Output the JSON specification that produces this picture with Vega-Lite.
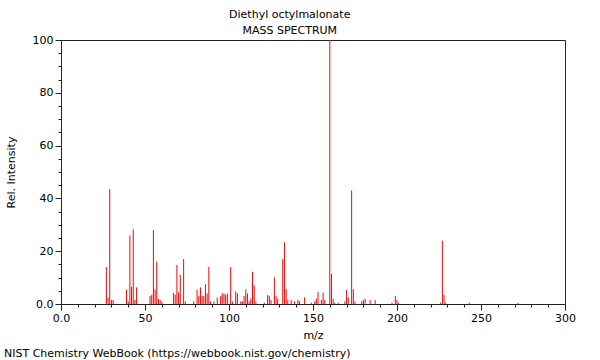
{
  "$schema": "https://vega.github.io/schema/vega-lite/v6.json",
  "padding": {"left": 3, "top": 8, "right": 5, "bottom": 2},
  "background": "white",
  "title": {
    "text": "Diethyl octylmalonate",
    "subtitle": "MASS SPECTRUM",
    "anchor": "middle",
    "font": "DejaVu Sans",
    "fontSize": 11,
    "fontWeight": "normal",
    "color": "#000000",
    "subtitleFont": "DejaVu Sans",
    "subtitleFontSize": 11,
    "subtitleColor": "#000000",
    "subtitlePadding": 5,
    "offset": -2
  },
  "vconcat": [
    {
      "width": 504,
      "height": 264,
      "title": {
        "text": "NIST Chemistry WebBook (https://webbook.nist.gov/chemistry)",
        "orient": "bottom",
        "anchor": "start",
        "frame": "bounds",
        "font": "DejaVu Sans",
        "fontSize": 11,
        "fontWeight": "normal",
        "color": "#000000",
        "offset": 8,
        "dx": -1
      },
      "data": {
        "values": [
          {"mz": 27, "intensity": 14}, {"mz": 28, "intensity": 2.5}, {"mz": 29, "intensity": 43.5}, {"mz": 30, "intensity": 1.5}, {"mz": 31, "intensity": 1.5},
          {"mz": 39, "intensity": 5.5}, {"mz": 40, "intensity": 1}, {"mz": 41, "intensity": 26}, {"mz": 42, "intensity": 6.5}, {"mz": 43, "intensity": 28.3}, {"mz": 44, "intensity": 1.5}, {"mz": 45, "intensity": 6.3},
          {"mz": 53, "intensity": 3}, {"mz": 54, "intensity": 3.5}, {"mz": 55, "intensity": 28}, {"mz": 56, "intensity": 5.5}, {"mz": 57, "intensity": 16}, {"mz": 58, "intensity": 2}, {"mz": 59, "intensity": 1.5}, {"mz": 60, "intensity": 1},
          {"mz": 67, "intensity": 4.2}, {"mz": 68, "intensity": 3.5}, {"mz": 69, "intensity": 14.8}, {"mz": 70, "intensity": 4.4}, {"mz": 71, "intensity": 11}, {"mz": 73, "intensity": 17}, {"mz": 74, "intensity": 1},
          {"mz": 79, "intensity": 1}, {"mz": 81, "intensity": 5.4}, {"mz": 82, "intensity": 3}, {"mz": 83, "intensity": 6.3}, {"mz": 84, "intensity": 3}, {"mz": 85, "intensity": 3}, {"mz": 86, "intensity": 7.5}, {"mz": 87, "intensity": 4}, {"mz": 88, "intensity": 14.1}, {"mz": 89, "intensity": 1},
          {"mz": 91, "intensity": 1}, {"mz": 93, "intensity": 2.5}, {"mz": 95, "intensity": 3}, {"mz": 96, "intensity": 4}, {"mz": 97, "intensity": 4}, {"mz": 98, "intensity": 3.5}, {"mz": 99, "intensity": 4},
          {"mz": 101, "intensity": 14}, {"mz": 102, "intensity": 1}, {"mz": 104, "intensity": 4.7}, {"mz": 105, "intensity": 4}, {"mz": 107, "intensity": 1}, {"mz": 108, "intensity": 1}, {"mz": 109, "intensity": 3}, {"mz": 110, "intensity": 5.5},
          {"mz": 111, "intensity": 4}, {"mz": 112, "intensity": 1}, {"mz": 113, "intensity": 2}, {"mz": 114, "intensity": 12.2}, {"mz": 115, "intensity": 7}, {"mz": 116, "intensity": 1}, {"mz": 121, "intensity": 0.5},
          {"mz": 123, "intensity": 3.4}, {"mz": 124, "intensity": 3}, {"mz": 125, "intensity": 1.5}, {"mz": 127, "intensity": 10.1}, {"mz": 128, "intensity": 3}, {"mz": 129, "intensity": 2},
          {"mz": 132, "intensity": 17}, {"mz": 133, "intensity": 23.4}, {"mz": 134, "intensity": 5.7}, {"mz": 135, "intensity": 1.5}, {"mz": 137, "intensity": 1.5}, {"mz": 139, "intensity": 1}, {"mz": 141, "intensity": 1.5}, {"mz": 142, "intensity": 1},
          {"mz": 145, "intensity": 2.5}, {"mz": 149, "intensity": 0.5}, {"mz": 151, "intensity": 1}, {"mz": 152, "intensity": 2}, {"mz": 153, "intensity": 4.5}, {"mz": 155, "intensity": 1.5}, {"mz": 156, "intensity": 4.3}, {"mz": 157, "intensity": 1.5},
          {"mz": 160, "intensity": 100}, {"mz": 161, "intensity": 11.4}, {"mz": 162, "intensity": 2}, {"mz": 163, "intensity": 0.5}, {"mz": 165, "intensity": 0.5},
          {"mz": 169, "intensity": 1}, {"mz": 170, "intensity": 5.3}, {"mz": 171, "intensity": 2.5}, {"mz": 173, "intensity": 43}, {"mz": 174, "intensity": 5.6}, {"mz": 175, "intensity": 1},
          {"mz": 179, "intensity": 1}, {"mz": 180, "intensity": 1.5}, {"mz": 181, "intensity": 2}, {"mz": 184, "intensity": 1.5}, {"mz": 187, "intensity": 1.5},
          {"mz": 197, "intensity": 0.5}, {"mz": 199, "intensity": 3}, {"mz": 200, "intensity": 1.5}, {"mz": 201, "intensity": 0.5},
          {"mz": 226, "intensity": 0.5}, {"mz": 227, "intensity": 24}, {"mz": 228, "intensity": 3.5}, {"mz": 229, "intensity": 0.5},
          {"mz": 243, "intensity": 0.5}, {"mz": 272, "intensity": 0.5}
        ]
      },
      "mark": {"type": "rule", "color": "#ff0000", "strokeWidth": 1},
      "encoding": {
        "x": {
          "field": "mz",
          "type": "quantitative",
          "scale": {"domain": [0, 300], "nice": false, "zero": false},
          "axis": {
            "title": "m/z",
            "values": [0, 10, 20, 30, 40, 50, 60, 70, 80, 90, 100, 110, 120, 130, 140, 150, 160, 170, 180, 190, 200, 210, 220, 230, 240, 250, 260, 270, 280, 290, 300],
            "labelExpr": "datum.value % 50 === 0 ? (datum.value === 0 ? '0.0' : datum.label) : ''",
            "tickSize": {"condition": {"test": "datum.value % 50 === 0", "value": 6}, "value": 3},
            "labelFlush": false,
            "labelOverlap": false,
            "labelPadding": 2,
            "titlePadding": 6
          }
        },
        "y": {
          "field": "intensity",
          "type": "quantitative",
          "scale": {"domain": [0, 100], "nice": false},
          "axis": {
            "title": "Rel. Intensity",
            "values": [0, 5, 10, 15, 20, 25, 30, 35, 40, 45, 50, 55, 60, 65, 70, 75, 80, 85, 90, 95, 100],
            "labelExpr": "datum.value % 20 === 0 ? (datum.value === 0 ? '0.0' : datum.label) : ''",
            "tickSize": {"condition": {"test": "datum.value % 20 === 0", "value": 6}, "value": 3},
            "labelFlush": false,
            "labelOverlap": false,
            "labelPadding": 2,
            "titlePadding": 16
          }
        },
        "y2": {"datum": 0}
      }
    }
  ],
  "config": {
    "font": "DejaVu Sans",
    "view": {"stroke": "#222222", "strokeWidth": 1},
    "axis": {
      "grid": false,
      "domainColor": "#222222",
      "tickColor": "#222222",
      "labelColor": "#000000",
      "titleColor": "#000000",
      "labelFont": "DejaVu Sans",
      "titleFont": "DejaVu Sans",
      "labelFontSize": 11,
      "titleFontSize": 11,
      "titleFontWeight": "normal"
    }
  }
}
